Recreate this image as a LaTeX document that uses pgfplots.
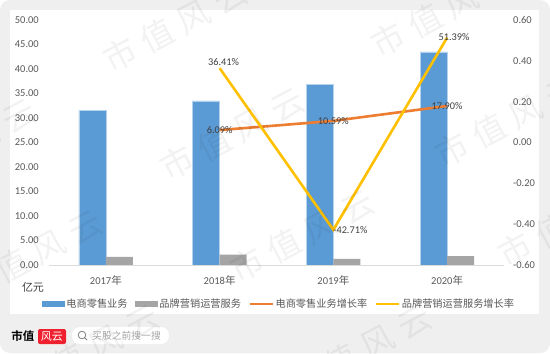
\documentclass[border=0pt]{standalone}
\usepackage{fontspec}
\usepackage{pgfplots}
\pgfplotsset{compat=1.18}
\setmainfont{Carlito}
\newfontfamily\cjk{Noto Sans CJK SC}
\newfontfamily\cjkb{Noto Sans CJK SC Bold}
\definecolor{cblue}{HTML}{5B9BD5}
\definecolor{cgray}{HTML}{A5A5A5}
\definecolor{corange}{HTML}{ED7D31}
\definecolor{cyellow}{HTML}{FFC000}
\definecolor{ctext}{HTML}{595959}
\definecolor{clabel}{HTML}{404040}
\definecolor{bgg}{HTML}{EFEFEF}
\definecolor{logored}{HTML}{F0202E}
\newcommand{\wmchar}[3]{\node[rotate=28,opacity=.05,text=black,inner sep=0] at (#1pt,-#2pt) {\cjk\fontsize{33}{33}\selectfont #3};}
\newcommand{\wm}[2]{%
 \pgfmathsetmacro{\xa}{#1+37}\pgfmathsetmacro{\ya}{#2-19}%
 \pgfmathsetmacro{\xb}{#1+74}\pgfmathsetmacro{\yb}{#2-38}%
 \pgfmathsetmacro{\xc}{#1+111}\pgfmathsetmacro{\yc}{#2-57}%
 \wmchar{#1}{#2}{市}\wmchar{\xa}{\ya}{值}\wmchar{\xb}{\yb}{风}\wmchar{\xc}{\yc}{云}}
\begin{document}
\begin{tikzpicture}
\path[use as bounding box] (0,0) rectangle (550pt,-354pt);
\begin{scope}
\clip (0,0) rectangle (550pt,-354pt);
\fill[white] (0,0) rectangle (550pt,-354pt);
\fill[bgg,rounded corners=10pt] (0,0) rectangle (550pt,-353pt);
\fill[white] (10pt,-10pt) rectangle (539pt,-314pt);
\end{scope}
\begin{axis}[
  at={(49pt,-265pt)},anchor=south west,scale only axis,width=455pt,height=245pt,
  xmin=-0.5,xmax=3.5,ymin=0,ymax=50,
  axis y line*=left,axis x line*=bottom,
  axis line style={draw=none},
  xtick={0,1,2,3},
  xticklabels={2017{\cjk 年},2018{\cjk 年},2019{\cjk 年},2020{\cjk 年}},
  ytick={0,5,...,50},
  yticklabels={0.00,5.00,10.00,15.00,20.00,25.00,30.00,35.00,40.00,45.00,50.00},
  major tick length=0pt,
  tick label style={text=ctext,font=\fontsize{10.5}{12}\selectfont},
  yticklabel style={anchor=east,inner sep=0pt,xshift=-10pt},
  xticklabel style={anchor=center,inner sep=0pt,yshift=-15pt},
  ybar=0pt,bar width=27pt,
  clip=false,
]
\addplot[fill=cblue,draw=cblue!45!white,line width=.6pt] coordinates {(0,31.5) (1,33.5) (2,36.9) (3,43.5)};
\addplot[fill=cgray,draw=none] coordinates {(0,1.65) (1,2.1) (2,1.25) (3,1.8)};
\end{axis}
\draw[draw=black!14,line width=.9pt] (49pt,-265pt) -- (504pt,-265pt);
\begin{axis}[
  at={(49pt,-265pt)},anchor=south west,scale only axis,width=455pt,height=245pt,
  xmin=-0.5,xmax=3.5,ymin=-0.6,ymax=0.6,
  axis y line*=right,axis x line=none,
  axis line style={draw=none},
  ytick={-0.6,-0.4,-0.2,0,0.2,0.4,0.6},
  yticklabels={-0.60,-0.40,-0.20,0.00,0.20,0.40,0.60},
  major tick length=0pt,
  tick label style={text=ctext,font=\fontsize{10.5}{12}\selectfont},
  yticklabel style={anchor=west,inner sep=0pt,xshift=9pt},
  clip=false,
  legend columns=4,
  legend cell align=left,
  legend style={at={(-7pt,-32pt)},anchor=north west,draw=none,fill=none,inner sep=0pt,outer sep=0pt,
    font=\cjk\fontsize{10.2}{12}\selectfont,text=ctext,
    /tikz/every even column/.append style={column sep=5.5pt}},
  point meta=explicit symbolic,
  nodes near coords={\pgfplotspointmeta\%},
  nodes near coords align=center,
  every node near coord/.append style={anchor=center,inner sep=0pt,text=clabel,font=\fontsize{10.3}{12}\selectfont,xshift=\dx pt,yshift=\dy pt},
  visualization depends on={value \thisrow{dx}\as\dx},
  visualization depends on={value \thisrow{dy}\as\dy},
]
\addlegendimage{legend image code/.code={\fill[cblue] (0pt,-2.5pt) rectangle (22pt,2.5pt);}}
\addlegendentry{电商零售业务}
\addlegendimage{legend image code/.code={\fill[cgray] (0pt,-2.5pt) rectangle (22pt,2.5pt);}}
\addlegendentry{品牌营销运营服务}
\addlegendimage{legend image code/.code={\draw[corange,line width=2pt] (0pt,0pt) -- (23pt,0pt);}}
\addlegendentry{电商零售业务增长率}
\addlegendimage{legend image code/.code={\draw[cyellow,line width=2pt] (0pt,0pt) -- (23pt,0pt);}}
\addlegendentry{品牌营销运营服务增长率}
\addplot[corange,line width=2.6pt,forget plot] table[x=x,y=y,meta=label] {
x y label dx dy
1 0.0609 6.09 0 0
2 0.1059 10.59 0 0
3 0.1790 17.90 0 0
};
\addplot[cyellow,line width=2.6pt,forget plot] table[x=x,y=y,meta=label] {
x y label dx dy
1 0.3641 36.41 4 6
2 -0.4271 -42.71 17 0
3 0.5139 51.39 7 1
};
\end{axis}
\node[anchor=center,inner sep=0,text=black!75] at (33pt,-287pt) {\cjk\fontsize{11}{12}\selectfont 亿元};
% footer
\node[anchor=center,inner sep=0] at (23pt,-336pt) {\cjkb\fontsize{11.5}{12}\selectfont 市值};
\fill[logored,rounded corners=2pt] (38pt,-329pt) rectangle (66pt,-344pt);
\node[anchor=center,inner sep=0,text=white] at (52pt,-336.5pt) {\cjk\fontsize{11}{12}\selectfont 风云};
\fill[white,rounded corners=8pt] (72pt,-327pt) rectangle (169pt,-344pt);
\draw[black!50,line width=.8pt] (82pt,-335pt) circle (3.8pt);
\draw[black!50,line width=.9pt] (84.8pt,-337.8pt) -- (87pt,-340pt);
\node[anchor=center,inner sep=0,text=black!35] at (126.5pt,-336pt) {\cjk\fontsize{9.8}{12}\selectfont 买股之前搜一搜};
% watermark
\begin{scope}
\clip (0,0) rectangle (550pt,-354pt);
\wm{120}{55}\wm{177}{163}\wm{388}{40}\wm{452}{150}\wm{-25}{285}\wm{247}{265}\wm{515}{250}\wm{-91}{174}\wm{32}{380}\wm{304}{380}
\end{scope}
\end{tikzpicture}
\end{document}
